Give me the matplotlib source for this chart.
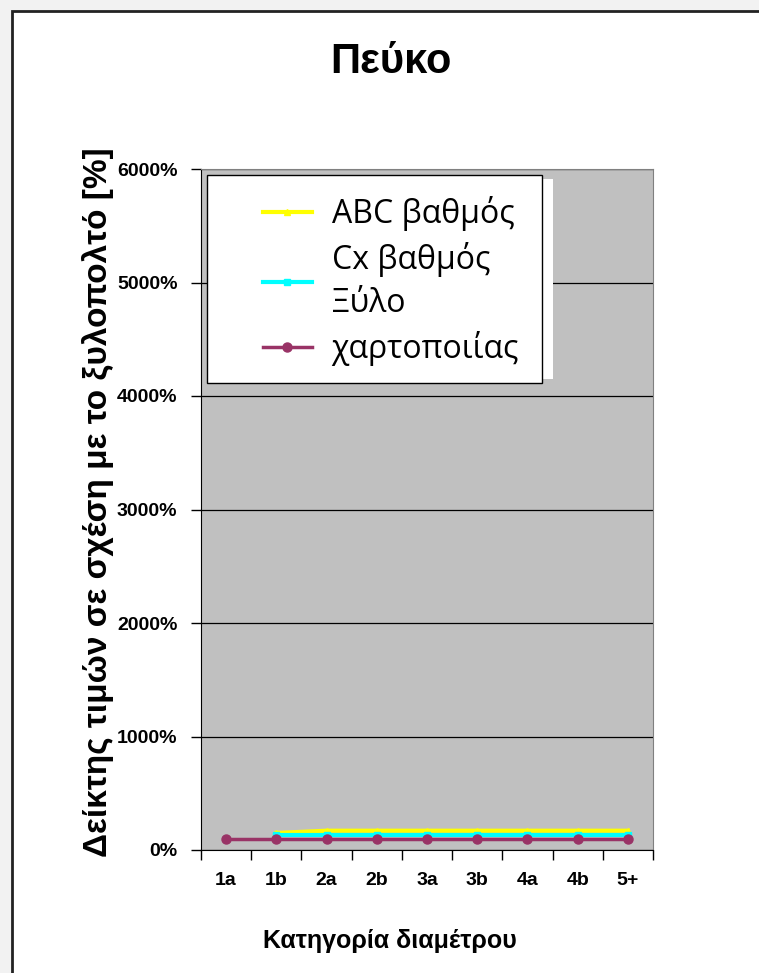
import numpy as np
import matplotlib
matplotlib.use("Agg")
import matplotlib.pyplot as plt
from matplotlib.patches import Rectangle

# categories and price index values (% of pulpwood)
categories = ['1a', '1b', '2a', '2b', '3a', '3b', '4a', '4b', '5+']
abc_grade = [np.nan, 150, 170, 170, 170, 170, 170, 170, 170]
cx_grade = [np.nan, 135, 135, 135, 135, 135, 135, 135, 135]
pulpwood = [100, 100, 100, 100, 100, 100, 100, 100, 100]
series_names = ['ABC βαθμός', 'Cx βαθμός\nΞύλο', 'χαρτοποιίας']
y_ticks = [0, 1000, 2000, 3000, 4000, 5000, 6000]

W, H = 759, 973
fig = plt.figure(figsize=(W / 100, H / 100), dpi=100, facecolor='#f2f2f2')

# white chart area with dark edge (runs off the right and bottom)
fig.patches.append(Rectangle((12 / W, -0.05), 1.0, 1 - 11 / H + 0.05,
                             transform=fig.transFigure, facecolor='white',
                             edgecolor='#222222', linewidth=2, zorder=-5))

ax = fig.add_axes([201 / W, 1 - 850 / H, (653 - 201) / W, (850 - 169) / H])
ax.set_zorder(1)
ax.set_facecolor('#c0c0c0')

x = np.arange(len(categories))
ax.plot(x, abc_grade, color='#ffff00', lw=3, marker='^', ms=5, label=series_names[0])
ax.plot(x, cx_grade, color='#00ffff', lw=3, marker='s', ms=5, label=series_names[1])
ax.plot(x, pulpwood, color='#993366', lw=2.5, marker='o', ms=6.5, label=series_names[2])

ax.set_xlim(-0.5, len(categories) - 0.5)
ax.set_ylim(0, 6000)
ax.set_yticks(y_ticks)
ax.set_yticklabels([f'{v}%' for v in y_ticks], fontsize=14, fontweight='bold',
                   family='Liberation Sans')
ax.yaxis.grid(True, color='black', lw=0.9)
ax.set_axisbelow(True)

ax.set_xticks(x)
ax.set_xticklabels(categories, fontsize=14, fontweight='bold', family='Liberation Sans')
ax.set_xticks(np.arange(len(categories) + 1) - 0.5, minor=True)
ax.tick_params(axis='x', which='major', length=0, pad=16)
ax.tick_params(axis='x', which='minor', length=7, width=1, color='black')
ax.tick_params(axis='y', length=7, width=1, pad=10, color='black')

for s in ['left', 'bottom']:
    ax.spines[s].set_color('black')
for s in ['top', 'right']:
    ax.spines[s].set_color('#808080')

fig.text(391 / W, 1 - 62 / H, 'Πεύκο', ha='center', va='center', fontsize=30,
         fontweight='bold', family='Liberation Sans')
fig.text(390 / W, 1 - 941 / H, 'Κατηγορία διαμέτρου', ha='center', va='center',
         fontsize=18, fontweight='bold', family='Liberation Sans')
fig.text(98 / W, 1 - 502 / H, 'Δείκτης τιμών σε σχέση με το ξυλοπολτό [%]',
         ha='center', va='center', rotation=90, fontsize=24, fontweight='bold',
         family='Liberation Sans')

# legend box drawn by hand, white offset behind it like the original
ax.add_patch(Rectangle((218 / W, 1 - 379 / H), (553 - 218) / W, (379 - 179) / H,
                       transform=fig.transFigure, facecolor='white',
                       edgecolor='none', zorder=5, clip_on=False))
ax.add_patch(Rectangle((207 / W, 1 - 383 / H), (542 - 207) / W, (383 - 175) / H,
                       transform=fig.transFigure, facecolor='white',
                       edgecolor='black', linewidth=1, zorder=6, clip_on=False))
leg = ax.legend(loc='upper left', bbox_to_anchor=(263 / W, 1 - 196 / H),
                bbox_transform=fig.transFigure, frameon=False, borderpad=0,
                borderaxespad=0, handlelength=1.53, handletextpad=0.62,
                labelspacing=0.35, prop={'family': 'Open Sans', 'size': 23})
leg.set_zorder(10)
for t in leg.get_texts():
    t.set_linespacing(1.39)

fig.savefig('out.png', dpi=100, facecolor=fig.get_facecolor())
